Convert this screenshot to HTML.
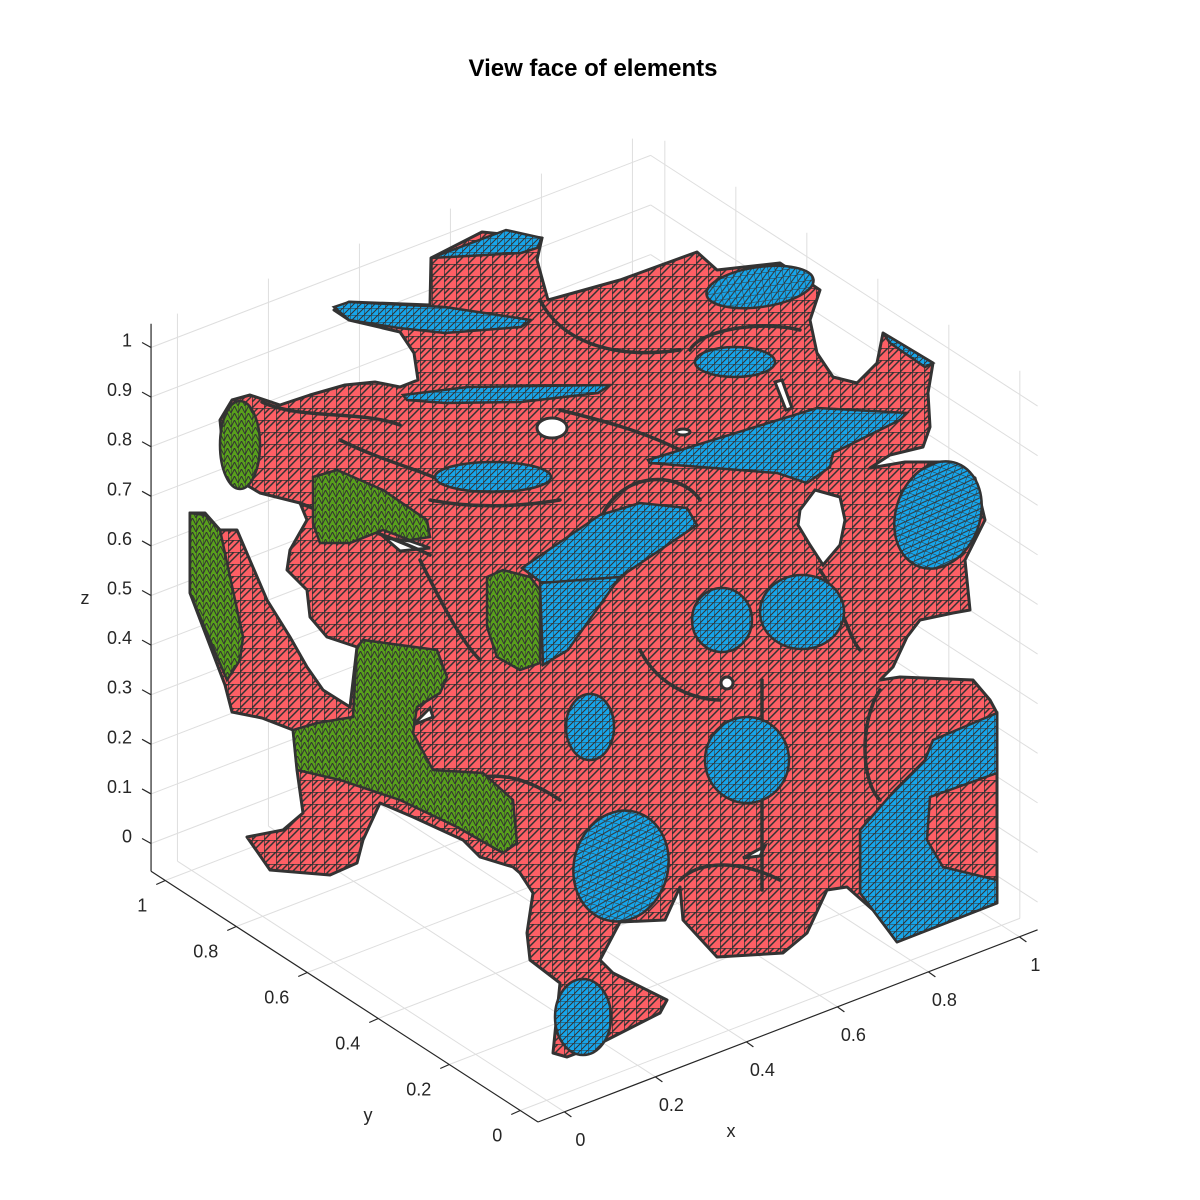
<!DOCTYPE html>
<html><head><meta charset="utf-8"><title>View face of elements</title>
<style>
html,body{margin:0;padding:0;background:#fff;}
svg{display:block;font-family:"Liberation Sans",Arial,sans-serif;}
</style></head>
<body>
<svg id="chart" width="1200" height="1200" viewBox="0 0 1200 1200" xmlns="http://www.w3.org/2000/svg">
<defs>
<pattern id="meshRed" width="12" height="12" patternUnits="userSpaceOnUse">
<rect width="12" height="12" fill="#fd5f65"/>
<path d="M0 0H12M0 0V12M0 12L12 0M0 6L6 0" stroke="#333" stroke-width="1.5" fill="none"/>
</pattern>
<pattern id="meshBlue" width="7" height="7" patternUnits="userSpaceOnUse">
<rect width="7" height="7" fill="#17a5ea"/>
<path d="M0 0V7M0 7L7 0M0 0H7" stroke="#333" stroke-width="1" fill="none"/>
</pattern>
<pattern id="meshGreen" width="7" height="7" patternUnits="userSpaceOnUse">
<rect width="7" height="7" fill="#59a11c"/>
<path d="M0 0V7M0 7L3.5 0L7 7" stroke="#333" stroke-width="1" fill="none"/>
</pattern>
</defs>
<text x="593" y="76" text-anchor="middle" font-size="24" font-weight="bold" fill="#000">View face of elements</text>
<g id="grid"></g>
<g id="axes"></g>

<g stroke="#333" stroke-width="3" stroke-linejoin="round">
<path fill="url(#meshRed)" d="M431,258 L482,232 L542,238 L537,260 L548,300 L620,280 L697,252 L717,270 L780,263 L820,290 L810,320 L817,353 L833,377 L857,383 L877,363 L883,333 L933,363 L928,393 L930,427 L923,447 L890,455 L870,468 L905,462 L945,462 L975,478 L985,520 L965,560 L970,610 L953,613 L920,620 L907,637 L893,667 L880,680 L900,677 L973,680 L990,700 L997,713 L997,903 L897,942 L873,910 L847,887 L827,890 L807,933 L783,953 L717,957 L683,920 L680,887 L665,920 L620,922 L600,960 L613,973 L667,1000 L660,1013 L593,1047 L567,1057 L553,1053 L560,983 L530,960 L527,933 L533,893 L520,873 L513,867 L480,857 L463,840 L413,817 L380,803 L363,840 L357,863 L330,875 L270,870 L247,837 L283,830 L303,813 L297,770 L293,730 L262,718 L232,712 L225,685 L190,593 L190,513 L205,513 L220,530 L237,530 L267,600 L290,637 L307,667 L323,690 L350,707 L357,647 L327,637 L310,617 L307,590 L287,570 L290,550 L307,520 L300,503 L260,493 L233,477 L223,450 L220,420 L232,400 L250,395 L280,405 L310,395 L345,385 L375,382 L400,387 L418,380 L414,353 L400,332 L349,320 L334,310 L349,302 L430,305 Z"/>
</g>

<g fill="#fff" stroke="#333" stroke-width="3">
<ellipse cx="552" cy="428" rx="15" ry="10"/>
<path d="M800,510 L815,490 L840,497 L845,520 L840,545 L823,565 L810,545 L798,525 Z"/>
<path d="M775,382 L782,380 L792,408 L786,410 Z"/>
<ellipse cx="683" cy="432" rx="7" ry="3"/>
<ellipse cx="727" cy="683" rx="6" ry="6"/>
<path d="M743,858 L765,846 L760,856 Z"/>
<path d="M413,725 L430,708 L433,717 Z"/>
<path d="M385,538 L410,541 L430,548 L400,551 Z"/>
</g>

<g fill="none" stroke="#333" stroke-width="3.5" stroke-linecap="round">
<path d="M262,402 C300,420 360,410 400,425"/>
<path d="M300,503 C340,520 400,540 430,555"/>
<path d="M540,300 C560,340 610,360 680,350"/>
<path d="M690,350 C700,330 760,320 800,330"/>
<path d="M560,410 C600,420 640,430 680,450"/>
<path d="M430,500 C480,510 530,505 560,500"/>
<path d="M600,520 C620,470 680,470 700,500"/>
<path d="M640,650 C660,690 700,700 720,700"/>
<path d="M762,680 L762,890"/>
<path d="M880,690 C860,720 860,780 880,800"/>
<path d="M420,560 C440,600 460,640 480,660"/>
<path d="M470,780 C500,770 530,780 560,800"/>
<path d="M680,880 C700,860 740,860 780,880"/>
<path d="M820,570 C840,600 850,640 860,650"/>
<path d="M340,440 C380,460 420,470 440,480"/>
</g>

<g fill="url(#meshGreen)" stroke="#333" stroke-width="2.5">
<ellipse cx="240" cy="445" rx="20" ry="44"/>
<path d="M313,477 L337,470 L383,490 L427,520 L430,537 L410,540 L383,530 L350,543 L320,543 L313,523 Z"/>
<path d="M190,513 L205,515 L220,530 L243,637 L240,660 L227,680 L190,593 Z"/>
<path d="M357,647 L363,640 L437,650 L447,677 L440,693 L417,707 L413,733 L433,770 L483,773 L513,800 L517,843 L503,853 L457,827 L400,800 L340,780 L297,770 L293,730 L317,723 L353,717 Z"/>
<path d="M487,577 L503,570 L530,577 L540,590 L540,663 L520,670 L497,657 L487,627 Z"/>
</g>

<g fill="url(#meshBlue)" stroke="#333" stroke-width="2.5">
<path d="M431,258 L506,230 L542,238 L537,248 L521,253 L468,256 Z"/>
<path d="M334,307 L349,302 L445,307 L531,320 L521,327 L445,333 L399,328 L349,320 Z"/>
<path d="M403,395 L468,387 L610,385 L598,393 L521,402 L445,403 L407,400 Z"/>
<ellipse cx="493" cy="477" rx="58" ry="15"/>
<path d="M522,568 L600,515 L640,503 L687,508 L697,525 L620,577 L585,585 L545,585 Z"/>
<path d="M540,583 L620,577 L600,605 L568,650 L543,665 Z"/>
<ellipse cx="735" cy="362" rx="40" ry="15"/>
<ellipse cx="760" cy="287" rx="54" ry="20" transform="rotate(-8 760 287)"/>
<path d="M883,333 L933,363 L925,367 L890,343 Z"/>
<path d="M648,460 L817,408 L907,413 L900,420 L833,453 L830,467 L807,483 L777,473 L650,463 Z"/>
<ellipse cx="938" cy="515" rx="42" ry="55" transform="rotate(20 938 515)"/>
<ellipse cx="722" cy="620" rx="30" ry="32"/>
<ellipse cx="802" cy="612" rx="42" ry="37"/>
<ellipse cx="747" cy="760" rx="42" ry="43"/>
<ellipse cx="590" cy="727" rx="24" ry="33"/>
<ellipse cx="621" cy="866" rx="47" ry="56" transform="rotate(15 621 866)"/>
<ellipse cx="583" cy="1017" rx="28" ry="38"/>
<path d="M933,740 L997,713 L997,773 L930,797 L927,840 L943,867 L997,880 L997,903 L897,942 L860,893 L860,830 L895,790 L925,760 Z"/>
</g>

<text x="731" y="1137" text-anchor="middle" font-size="18" fill="#262626">x</text>
<text x="368" y="1121" text-anchor="middle" font-size="18" fill="#262626">y</text>
<text x="85" y="604" text-anchor="middle" font-size="18" fill="#262626">z</text>
</svg>
<script>
const xTicks = [0, 0.2, 0.4, 0.6, 0.8, 1];
const yTicks = [0, 0.2, 0.4, 0.6, 0.8, 1];
const zTicks = [0, 0.1, 0.2, 0.3, 0.4, 0.5, 0.6, 0.7, 0.8, 0.9, 1];
const xTickLabels = ["0", "0.2", "0.4", "0.6", "0.8", "1"];
const yTickLabels = ["0", "0.2", "0.4", "0.6", "0.8", "1"];
const zTickLabels = ["0", "0.1", "0.2", "0.3", "0.4", "0.5", "0.6", "0.7", "0.8", "0.9", "1"];
const xLim = [-0.058, 1.04];
const yLim = [-0.05, 1.04];
const zLim = [-0.056, 1.048];

const NS = "http://www.w3.org/2000/svg";
const C0 = [538, 1122];
function proj(x, y, z) {
  const dx = x - xLim[0], dy = y - yLim[0], dz = z - zLim[0];
  return [C0[0] + 455 * dx - 355 * dy, C0[1] - 175 * dx - 230 * dy - 496 * dz];
}
function line(g, a, b, color, w, name) {
  const l = document.createElementNS(NS, "line");
  l.setAttribute("x1", a[0]); l.setAttribute("y1", a[1]);
  l.setAttribute("x2", b[0]); l.setAttribute("y2", b[1]);
  l.setAttribute("stroke", color); l.setAttribute("stroke-width", w);
  
  
  g.appendChild(l);
}
function label(g, x, y, txt, anchor, name) {
  const t = document.createElementNS(NS, "text");
  t.setAttribute("x", x); t.setAttribute("y", y);
  t.setAttribute("text-anchor", anchor);
  t.setAttribute("font-size", "18");
  t.setAttribute("fill", "#262626");
  t.textContent = txt;
  
  
  g.appendChild(t);
}
const grid = document.getElementById("grid");
const axes = document.getElementById("axes");
const gc = "#dedede";
xTicks.forEach(x => line(grid, proj(x, yLim[0], zLim[0]), proj(x, yLim[1], zLim[0]), gc, 1, "floor-grid-x"));
yTicks.forEach(y => line(grid, proj(xLim[0], y, zLim[0]), proj(xLim[1], y, zLim[0]), gc, 1, "floor-grid-y"));
xTicks.forEach(x => line(grid, proj(x, yLim[1], zLim[0]), proj(x, yLim[1], zLim[1]), gc, 1, "wall-grid-x"));
zTicks.forEach(z => line(grid, proj(xLim[0], yLim[1], z), proj(xLim[1], yLim[1], z), gc, 1, "wall-grid-z-left"));
yTicks.forEach(y => line(grid, proj(xLim[1], y, zLim[0]), proj(xLim[1], y, zLim[1]), gc, 1, "wall-grid-y"));
zTicks.forEach(z => line(grid, proj(xLim[1], yLim[0], z), proj(xLim[1], yLim[1], z), gc, 1, "wall-grid-z-right"));
const ac = "#262626";
line(axes, proj(xLim[0], yLim[0], zLim[0]), proj(xLim[1], yLim[0], zLim[0]), ac, 1.2, "x-axis-line");
line(axes, proj(xLim[0], yLim[0], zLim[0]), proj(xLim[0], yLim[1], zLim[0]), ac, 1.2, "y-axis-line");
line(axes, proj(xLim[0], yLim[1], zLim[0]), proj(xLim[0], yLim[1], zLim[1]), ac, 1.2, "z-axis-line");
xTicks.forEach((x, i) => {
  const p = proj(x, yLim[0], zLim[0]);
  line(axes, p, [p[0] + 7, p[1] + 5], ac, 1.2, "x-tick");
  label(axes, p[0] + 16, p[1] + 34, xTickLabels[i], "middle", "x-tick-label");
});
yTicks.forEach((y, i) => {
  const p = proj(xLim[0], y, zLim[0]);
  line(axes, p, [p[0] - 9, p[1] + 4], ac, 1.2, "y-tick");
  label(axes, p[0] - 18, p[1] + 31, yTickLabels[i], "end", "y-tick-label");
});
zTicks.forEach((z, i) => {
  const p = proj(xLim[0], yLim[1], z);
  line(axes, p, [p[0] - 9, p[1] - 5], ac, 1.2, "z-tick");
  label(axes, 132, p[1] - 1, zTickLabels[i], "end", "z-tick-label");
});
</script>
</body></html>
